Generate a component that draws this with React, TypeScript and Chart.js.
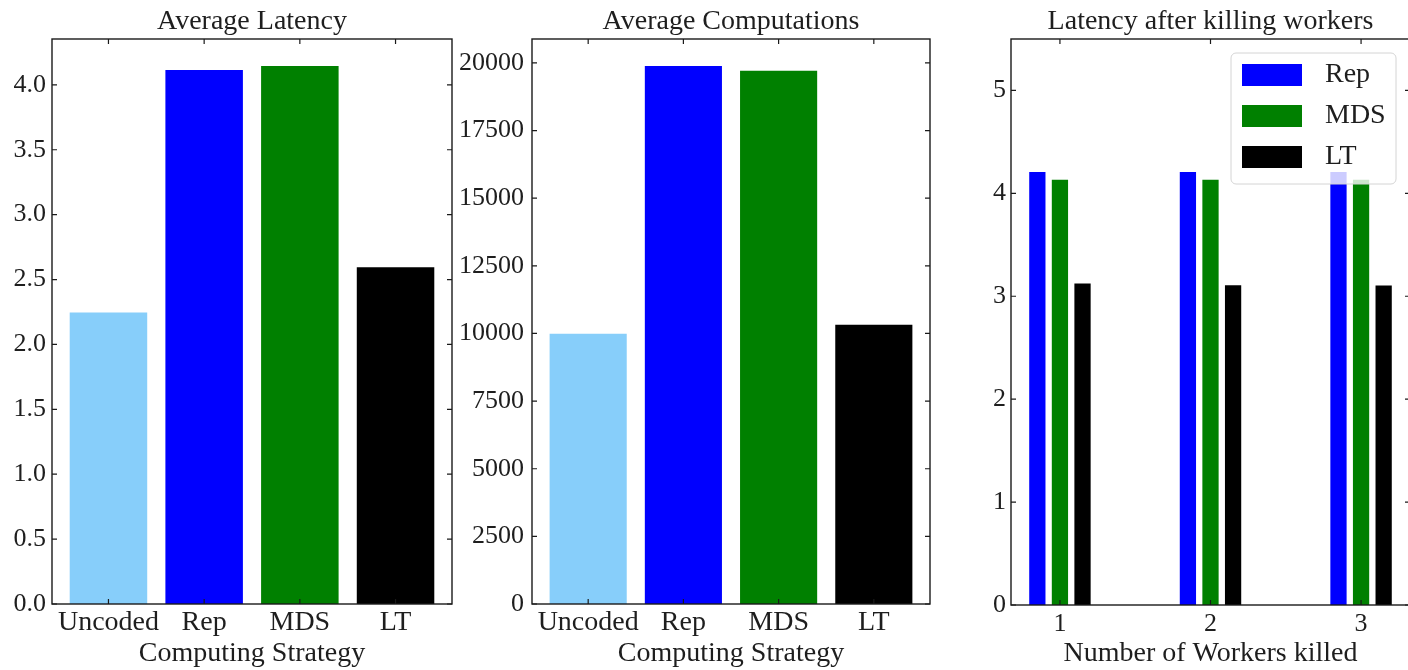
import React, { useEffect, useRef } from "react";
import { Chart, registerables } from "chart.js";

Chart.register(...registerables);

// ---------- data ----------
const strategies = ["Uncoded", "Rep", "MDS", "LT"];
const strategyColors = ["#87CEFA", "#0000FF", "#008000", "#000000"];
const avgLatency = [2.246, 4.115, 4.146, 2.595];
const avgComputations = [9990, 19890, 19715, 10325];
const latencyTicks = [0, 0.5, 1.0, 1.5, 2.0, 2.5, 3.0, 3.5, 4.0];
const computationTicks = [0, 2500, 5000, 7500, 10000, 12500, 15000, 17500, 20000];

const workersKilled = [1, 2, 3];
const killedRep = [4.207, 4.207, 4.207];
const killedMDS = [4.133, 4.133, 4.133];
const killedLT = [3.123, 3.107, 3.105];
const killedSeriesNames = ["Rep", "MDS", "LT"];
const killedSeriesColors = ["#0000FF", "#008000", "#000000"];
const killedYTicks = [0, 1, 2, 3, 4, 5];

const SERIF = "'Liberation Serif', 'Times New Roman', serif";
const TEXT = "#1e1e1e";
const H = 670;

// ---------- plugins ----------
const framePlugin = {
  id: "frame",
  afterDatasetsDraw(chart: any) {
    const { ctx, chartArea: a, scales } = chart;
    const L = 5;
    ctx.save();
    ctx.strokeStyle = "#1a1a1a";
    ctx.lineWidth = 1.2;
    ctx.beginPath();
    scales.x.ticks.forEach((t: any) => {
      const px = scales.x.getPixelForValue(t.value);
      ctx.moveTo(px, a.bottom);
      ctx.lineTo(px, a.bottom - L);
      ctx.moveTo(px, a.top);
      ctx.lineTo(px, a.top + L);
    });
    scales.y.ticks.forEach((t: any) => {
      const py = scales.y.getPixelForValue(t.value);
      ctx.moveTo(a.left, py);
      ctx.lineTo(a.left + L, py);
      ctx.moveTo(a.right, py);
      ctx.lineTo(a.right - L, py);
    });
    ctx.stroke();
    ctx.lineWidth = 1.4;
    ctx.strokeRect(a.left, a.top, a.right - a.left, a.bottom - a.top);
    ctx.restore();
  },
};

const boxLegendPlugin = {
  id: "boxLegend",
  afterDraw(chart: any, _args: any, opts: any) {
    if (!opts || !opts.display) return;
    const { ctx, chartArea: a } = chart;
    const x = a.right - opts.offsetRight;
    const y = a.top + opts.offsetTop;
    const w = opts.width;
    const h = opts.height;
    ctx.save();
    ctx.beginPath();
    ctx.roundRect(x, y, w, h, 5);
    ctx.fillStyle = "rgba(255,255,255,0.8)";
    ctx.fill();
    ctx.strokeStyle = "#d4d4d4";
    ctx.lineWidth = 1;
    ctx.stroke();
    ctx.font = `28px ${SERIF}`;
    ctx.textBaseline = "middle";
    ctx.textAlign = "left";
    chart.data.datasets.forEach((ds: any, i: number) => {
      const py = y + 11 + i * 41;
      ctx.fillStyle = ds.backgroundColor;
      ctx.fillRect(x + 11, py, 60, 22);
      ctx.fillStyle = TEXT;
      ctx.fillText(ds.label, x + 94, py + 11);
    });
    ctx.restore();
  },
};

// ---------- config builder ----------
type PanelSpec = {
  title: string;
  datasets: any[];
  xMin: number;
  xMax: number;
  xTickValues: number[];
  xTickLabel: (v: number) => string;
  xTickFontSize: number;
  xTickPad: number;
  xLabel: string;
  yMax: number;
  yTickValues: number[];
  yTickLabel: (v: number) => string;
  yTickPad: number;
  yAxisWidth: number;
  padRight: number;
  bottom: number;
  legend?: any;
};

function buildConfig(p: PanelSpec): any {
  return {
    type: "bar",
    data: { datasets: p.datasets },
    plugins: [framePlugin, boxLegendPlugin],
    options: {
      responsive: false,
      animation: false,
      events: [],
      layout: { padding: { left: 0, right: p.padRight, top: 0, bottom: 0 } },
      plugins: {
        legend: { display: false },
        tooltip: { enabled: false },
        title: {
          display: true,
          text: p.title,
          fullSize: false,
          color: TEXT,
          font: { family: SERIF, size: 28, weight: "normal", lineHeight: 1.2 },
          padding: { top: 5, bottom: 0.4 },
        },
        boxLegend: p.legend || { display: false },
      },
      scales: {
        x: {
          type: "linear",
          min: p.xMin,
          max: p.xMax,
          offset: false,
          grid: { display: false, drawTicks: false, offset: false },
          border: { display: false },
          afterBuildTicks: (s: any) => {
            s.ticks = p.xTickValues.map((v) => ({ value: v }));
          },
          afterFit: (s: any) => {
            s.height = H - p.bottom;
          },
          ticks: {
            autoSkip: false,
            maxRotation: 0,
            padding: p.xTickPad,
            color: TEXT,
            font: { family: SERIF, size: p.xTickFontSize, lineHeight: 1.2 },
            callback: (v: any) => p.xTickLabel(Number(v)),
          },
          title: {
            display: true,
            text: p.xLabel,
            color: TEXT,
            font: { family: SERIF, size: 28, lineHeight: 1.2 },
            padding: { top: 0, bottom: 0 },
          },
        },
        y: {
          type: "linear",
          min: 0,
          max: p.yMax,
          grid: { display: false, drawTicks: false },
          border: { display: false },
          afterBuildTicks: (s: any) => {
            s.ticks = p.yTickValues.map((v) => ({ value: v }));
          },
          afterFit: (s: any) => {
            s.width = p.yAxisWidth;
          },
          ticks: {
            padding: p.yTickPad,
            color: TEXT,
            font: { family: SERIF, size: 26, lineHeight: 1.2 },
            callback: (v: any) => p.yTickLabel(Number(v)),
          },
        },
      },
    },
  };
}

function Panel({ left, width, spec }: { left: number; width: number; spec: PanelSpec }) {
  const ref = useRef<HTMLCanvasElement>(null);
  useEffect(() => {
    const chart = new Chart(ref.current as HTMLCanvasElement, buildConfig(spec));
    return () => chart.destroy();
  }, []);
  return (
    <canvas
      ref={ref}
      width={width}
      height={H}
      style={{ position: "absolute", left, top: 0, width, height: H }}
    />
  );
}

const strategyDataset = (values: number[]) => ({
  label: "value",
  data: strategies.map((_, i) => ({ x: i, y: values[i] })),
  backgroundColor: strategyColors,
  borderWidth: 0,
  categoryPercentage: 1,
  barPercentage: 0.81,
});

const latencySpec: PanelSpec = {
  title: "Average Latency",
  datasets: [strategyDataset(avgLatency)],
  xMin: -0.59,
  xMax: 3.59,
  xTickValues: strategies.map((_, i) => i),
  xTickLabel: (v) => strategies[Math.round(v)] ?? "",
  xTickFontSize: 28,
  xTickPad: 2,
  xLabel: "Computing Strategy",
  yMax: Math.max(...avgLatency) * 1.05,
  yTickValues: latencyTicks,
  yTickLabel: (v) => v.toFixed(1),
  yTickPad: 6,
  yAxisWidth: 52,
  padRight: 18,
  bottom: 604,
};

const computationSpec: PanelSpec = {
  title: "Average Computations",
  datasets: [strategyDataset(avgComputations)],
  xMin: -0.59,
  xMax: 3.59,
  xTickValues: strategies.map((_, i) => i),
  xTickLabel: (v) => strategies[Math.round(v)] ?? "",
  xTickFontSize: 28,
  xTickPad: 2,
  xLabel: "Computing Strategy",
  yMax: Math.max(...avgComputations) * 1.05,
  yTickValues: computationTicks,
  yTickLabel: (v) => String(v),
  yTickPad: 8,
  yAxisWidth: 92,
  padRight: 10,
  bottom: 604,
};

const killedValues = [killedRep, killedMDS, killedLT];
const killedSpec: PanelSpec = {
  title: "Latency after killing workers",
  datasets: killedSeriesNames.map((name, s) => ({
    label: name,
    data: workersKilled.map((w, i) => ({ x: w, y: killedValues[s][i] })),
    backgroundColor: killedSeriesColors[s],
    borderWidth: 0,
    categoryPercentage: 0.45,
    barPercentage: 0.72,
  })),
  xMin: 0.675,
  xMax: 3.325,
  xTickValues: workersKilled,
  xTickLabel: (v) => String(v),
  xTickFontSize: 26,
  xTickPad: 4,
  xLabel: "Number of Workers killed",
  yMax: 5.5,
  yTickValues: killedYTicks,
  yTickLabel: (v) => String(v),
  yTickPad: 5,
  yAxisWidth: 71,
  padRight: 10,
  bottom: 605,
  legend: { display: true, offsetRight: 179, offsetTop: 14, width: 165, height: 131 },
};

export default function App() {
  return (
    <div
      style={{
        position: "fixed",
        left: 0,
        top: 0,
        width: 1408,
        height: H,
        overflow: "hidden",
        background: "#ffffff",
      }}
    >
      <Panel left={0} width={470} spec={latencySpec} />
      <Panel left={440} width={500} spec={computationSpec} />
      <Panel left={940} width={480} spec={killedSpec} />
    </div>
  );
}
